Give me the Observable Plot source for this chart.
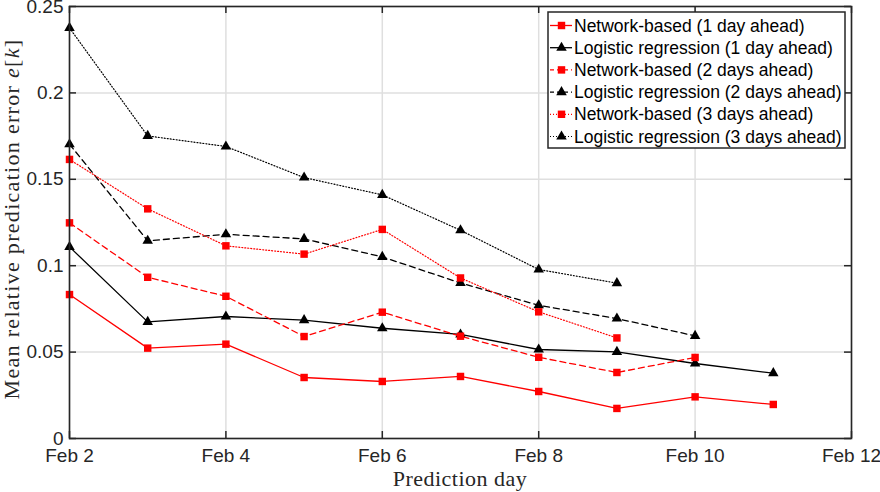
<!DOCTYPE html>
<html>
<head>
<meta charset="utf-8">
<script src="https://cdn.jsdelivr.net/npm/d3@7"></script>
<script src="https://cdn.jsdelivr.net/npm/@observablehq/plot@0.6"></script>
<style>
  html, body { margin: 0; padding: 0; background: #fff; }
  #chart { width: 880px; height: 492px; }
</style>
</head>
<body>
<div id="chart"></div>
<script>
// ---- data ----
const days1 = [2, 3, 4, 5, 6, 7, 8, 9, 10, 11];
const days2 = [2, 3, 4, 5, 6, 7, 8, 9, 10];
const days3 = [2, 3, 4, 5, 6, 7, 8, 9];
const net1 = [0.0833, 0.0523, 0.0546, 0.0353, 0.0330, 0.0359, 0.0272, 0.0174, 0.0241, 0.0197];
const log1 = [0.1109, 0.0675, 0.0706, 0.0685, 0.0638, 0.0602, 0.0515, 0.0501, 0.0434, 0.0378];
const net2 = [0.1248, 0.0933, 0.0823, 0.0590, 0.0731, 0.0592, 0.0470, 0.0382, 0.0469];
const log2 = [0.1703, 0.1144, 0.1182, 0.1155, 0.1051, 0.0900, 0.0771, 0.0694, 0.0594];
const net3 = [0.1615, 0.1329, 0.1115, 0.1067, 0.1210, 0.0929, 0.0733, 0.0582];
const log3 = [0.2376, 0.1751, 0.1690, 0.1510, 0.1410, 0.1205, 0.0978, 0.0899];
const seriesNames = [
  "Network-based (1 day ahead)",
  "Logistic regression (1 day ahead)",
  "Network-based (2 days ahead)",
  "Logistic regression (2 days ahead)",
  "Network-based (3 days ahead)",
  "Logistic regression (3 days ahead)"
];
const xTicks = [2, 4, 6, 8, 10, 12];
const xTickLabels = ["Feb 2", "Feb 4", "Feb 6", "Feb 8", "Feb 10", "Feb 12"];
const yTicks = [0, 0.05, 0.1, 0.15, 0.2, 0.25];
const yTickLabels = ["0", "0.05", "0.1", "0.15", "0.2", "0.25"];

// ---- styles ----
const RED = "#ff0000", BLACK = "#000000", AX = "#262626";
const styles = [
  {color: RED, dash: null, symbol: "square", r: 4.2, sw: 1.3},
  {color: BLACK, dash: null, symbol: "triangle", r: 3.9, sw: 1.3},
  {color: RED, dash: "6,4", symbol: "square", r: 4.2, sw: 1.3},
  {color: BLACK, dash: "6,4", symbol: "triangle", r: 3.9, sw: 1.3},
  {color: RED, dash: "1,2", symbol: "square", r: 4.2, sw: 1.2},
  {color: BLACK, dash: "1,2", symbol: "triangle", r: 3.9, sw: 1.2}
];
const seriesData = [
  [days1, net1], [days1, log1], [days2, net2], [days2, log2], [days3, net3], [days3, log3]
].map(([d, v], i) => d.map((day, j) => ({day, value: v[j], series: seriesNames[i]})));

const W = 880, H = 492, mL = 69, mT = 6, mR = 29, mB = 54;
const innerW = W - mL - mR, innerH = H - mT - mB;
const TL = 7;
const SANS = "'Liberation Sans', Arial, sans-serif";

const marks = [
  Plot.gridX(xTicks, {stroke: "#dfdfdf", strokeOpacity: 1, strokeWidth: 1.5}),
  Plot.gridY(yTicks, {stroke: "#dfdfdf", strokeOpacity: 1, strokeWidth: 1.5})
];
seriesData.forEach((rows, i) => {
  const s = styles[i];
  marks.push(Plot.line(rows, {x: "day", y: "value", stroke: s.color, strokeWidth: s.sw,
    strokeDasharray: s.dash || undefined}));
  marks.push(Plot.dot(rows, {x: "day", y: "value", symbol: () => s.symbol, fill: s.color,
    stroke: "none", r: s.r}));
});
marks.push(
  Plot.frame({stroke: AX, strokeWidth: 1.6}),
  Plot.tickX(xTicks, {x: d => d, insetTop: innerH - TL, stroke: AX, strokeWidth: 1.5}),
  Plot.tickX(xTicks, {x: d => d, insetBottom: innerH - TL, stroke: AX, strokeWidth: 1.5}),
  Plot.tickY(yTicks, {y: d => d, insetRight: innerW - TL, stroke: AX, strokeWidth: 1.5}),
  Plot.tickY(yTicks, {y: d => d, insetLeft: innerW - TL, stroke: AX, strokeWidth: 1.5}),
  Plot.axisX(xTicks, {tickSize: 0, tickPadding: 10, label: null, fontSize: 19,
    tickFormat: d => xTickLabels[xTicks.indexOf(d)], fill: AX}),
  Plot.axisY(yTicks, {tickSize: 0, tickPadding: 6, label: null, fontSize: 19,
    tickFormat: d => yTickLabels[yTicks.indexOf(d)], fill: AX})
);

const plot = Plot.plot({
  width: W, height: H,
  marginLeft: mL, marginTop: mT, marginRight: mR, marginBottom: mB,
  x: {domain: [2, 12]},
  y: {domain: [0, 0.25]},
  style: {fontFamily: SANS, fontSize: "18px", color: AX, background: "#fff"},
  marks
});
document.getElementById("chart").appendChild(plot);

// ---- axis labels & legend ----
const svg = d3.select(plot);
const serif = "'Liberation Serif', 'Times New Roman', serif";
svg.append("text")
  .attr("x", mL + innerW / 2).attr("y", 486)
  .attr("text-anchor", "middle")
  .style("font-family", serif).style("font-size", "22px").style("letter-spacing", "0.5px")
  .attr("fill", AX)
  .text("Prediction day");
const yl = svg.append("text")
  .attr("transform", `translate(19,219) rotate(-90)`)
  .attr("text-anchor", "middle")
  .style("font-family", serif).style("font-size", "22px").style("letter-spacing", "1.3px")
  .attr("fill", AX);
yl.append("tspan").text("Mean relative predication error ");
yl.append("tspan").style("font-style", "italic").text("e");
yl.append("tspan").text("[");
yl.append("tspan").style("font-style", "italic").text("k");
yl.append("tspan").text("]");

const lg = svg.append("g").attr("transform", "translate(548,12)");
lg.append("rect").attr("width", 297).attr("height", 136)
  .attr("fill", "#fff").attr("stroke", AX).attr("stroke-width", 1.5);
seriesNames.forEach((name, i) => {
  const s = styles[i];
  const y = 13.5 + i * 22.2;
  lg.append("line").attr("x1", 2).attr("x2", 24).attr("y1", y).attr("y2", y)
    .attr("stroke", s.color).attr("stroke-width", s.sw)
    .attr("stroke-dasharray", s.dash ? (s.dash === "6,4" ? "4,3" : s.dash) : null);
  const sym = s.symbol === "square" ? d3.symbolSquare : d3.symbolTriangle;
  lg.append("path").attr("d", d3.symbol(sym, Math.PI * s.r * s.r)())
    .attr("transform", `translate(13.5,${y})`).attr("fill", s.color);
  lg.append("text").attr("x", 26).attr("y", y).attr("dy", "0.35em")
    .attr("text-anchor", "start")
    .style("font-family", SANS).style("font-size", "17.5px")
    .attr("fill", "#000").text(name);
});
</script>
</body>
</html>
